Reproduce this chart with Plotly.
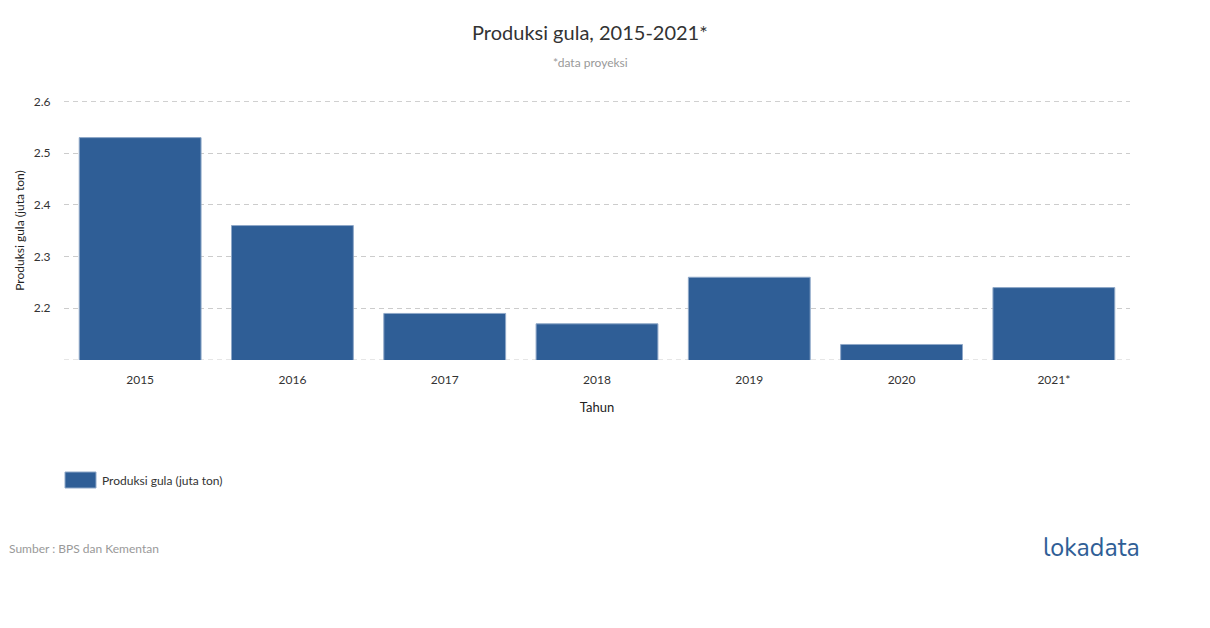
import plotly.graph_objects as go

years = ["2015", "2016", "2017", "2018", "2019", "2020", "2021*"]
production = [2.53, 2.36, 2.19, 2.17, 2.26, 2.13, 2.24]
y_tickvals = [2.1, 2.2, 2.3, 2.4, 2.5, 2.6]
y_ticktext = ["", "2.2", "2.3", "2.4", "2.5", "2.6"]
y_min, y_max = 2.1, 2.6

FONT = "Lato"
BLUE = "#2f5e96"
GRID = "#cccccc"
DASH = "5px,4px"

# page offset of plotly's html body (8px) is compensated in margins
L, T, PW, PH = 56, 93, 1066, 259
def px(x):  # reference page x -> paper x
    return (x - 64) / PW
def py(y):  # reference page y -> paper y
    return (360 - y) / PH

fig = go.Figure()
fig.add_trace(go.Bar(
    x=years, y=production,
    name="Produksi gula (juta ton)",
    marker=dict(color=BLUE, line=dict(color="#8fa8c8", width=1)),
    showlegend=False,
))

edge_lines = [
    dict(type="line", xref="paper", yref="y", x0=0, x1=1, y0=v, y1=v,
         layer="below", line=dict(color=GRID, width=1, dash=DASH))
    for v in (y_min, y_max)
]

fig.update_layout(
    width=1210, height=628,
    margin=dict(l=L, r=1210 - L - PW, t=T, b=628 - T - PH),
    paper_bgcolor="white", plot_bgcolor="white",
    font=dict(family=FONT, size=12, color="#333"),
    bargap=0.2,
    showlegend=False,
    xaxis=dict(
        showgrid=False, showline=False, zeroline=False,
        ticks="outside", ticklen=9, tickcolor="rgba(0,0,0,0)",
        tickfont=dict(size=12, color="#333"),
        title=dict(text="Tahun", font=dict(size=13, color="#222"), standoff=16),
    ),
    yaxis=dict(
        range=[y_min, y_max + 0.0008], tickvals=y_tickvals, ticktext=y_ticktext,
        showgrid=True, gridcolor=GRID, griddash=DASH, gridwidth=1,
        zeroline=False, showline=False,
        ticks="outside", ticklen=10, tickcolor="rgba(0,0,0,0)",
        tickfont=dict(size=12, color="#333"),
        title=dict(text="Produksi gula (juta ton)", font=dict(size=12, color="#222"), standoff=6),
    ),
    shapes=edge_lines + [
        dict(type="rect", xref="paper", yref="paper",
             x0=px(65), x1=px(96), y0=py(488), y1=py(472),
             fillcolor=BLUE, line=dict(color="#8fa8c8", width=1)),
    ],
    annotations=[
        dict(text="Produksi gula, 2015-2021*", x=px(590), y=py(32), xref="paper", yref="paper",
             xanchor="center", yanchor="middle",
             showarrow=False, font=dict(size=20, color="#333", family=FONT)),
        dict(text="*data proyeksi", x=px(590), y=py(62), xref="paper", yref="paper",
             xanchor="center", yanchor="middle",
             showarrow=False, font=dict(size=12, color="#999", family=FONT)),
        dict(text="Produksi gula (juta ton)", x=px(100), y=py(480), xref="paper", yref="paper",
             xanchor="left", yanchor="middle",
             showarrow=False, font=dict(size=12, color="#333", family=FONT)),
        dict(text="Sumber : BPS dan Kementan", x=px(7), y=py(548),
             xref="paper", yref="paper", xanchor="left", yanchor="middle",
             showarrow=False, font=dict(size=12, color="#999", family=FONT)),
        dict(text="lokadata", x=px(1142), y=py(548),
             xref="paper", yref="paper", xanchor="right", yanchor="middle",
             showarrow=False, font=dict(size=25, color=BLUE, family="Nunito, Lato")),
    ],
)

fig.write_html("out.html")
